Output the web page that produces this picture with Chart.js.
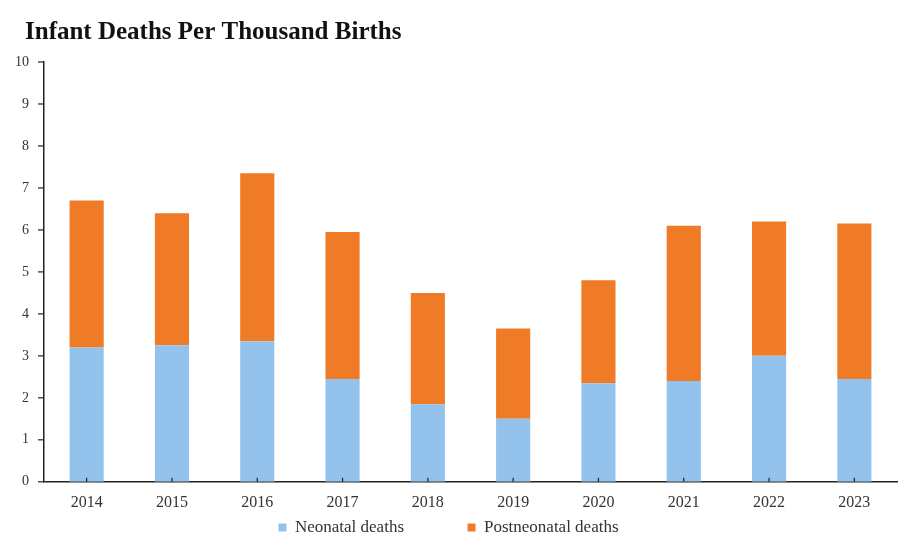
<!DOCTYPE html>
<html>
<head>
<meta charset="utf-8">
<script src="https://cdn.jsdelivr.net/npm/chart.js@4/dist/chart.umd.min.js"></script>
<style>
  html, body { margin: 0; padding: 0; background: #fff; }
  #wrap { width: 906px; height: 546px; }
</style>
</head>
<body>
<div id="wrap"><canvas id="infantChart" width="906" height="546"></canvas></div>
<script>
const years = ['2014', '2015', '2016', '2017', '2018', '2019', '2020', '2021', '2022', '2023'];
const neonatal = [3.2, 3.25, 3.35, 2.45, 1.85, 1.5, 2.35, 2.4, 3.0, 2.45];
const postneonatal = [3.5, 3.15, 4.0, 3.5, 2.65, 2.15, 2.45, 3.7, 3.2, 3.7];
const yTicks = [0, 1, 2, 3, 4, 5, 6, 7, 8, 9, 10];

const serif = "'Liberation Serif', 'DejaVu Serif', serif";

const ctx = document.getElementById('infantChart').getContext('2d');
new Chart(ctx, {
  type: 'bar',
  data: {
    labels: years,
    datasets: [{
      label: 'Neonatal deaths',
      data: neonatal,
      backgroundColor: '#93c2ec',
      barPercentage: 0.5,
      categoryPercentage: 0.8
    }, {
      label: 'Postneonatal deaths',
      data: postneonatal,
      backgroundColor: '#ef7b27',
      barPercentage: 0.5,
      categoryPercentage: 0.8
    }]
  },
  options: {
    responsive: false,
    animation: false,
    layout: { padding: { left: 0, right: 9, top: 18, bottom: 0 } },
    plugins: {
      title: {
        display: true,
        text: 'Infant Deaths Per Thousand Births',
        align: 'start',
        color: '#111',
        font: { family: serif, size: 25, weight: 'bold' },
        padding: { top: 0, bottom: 14 }
      },
      legend: {
        position: 'bottom',
        labels: {
          color: '#333',
          boxWidth: 8,
          boxHeight: 8,
          padding: 4,
          font: { family: serif, size: 17 },
          generateLabels(chart) {
            // wider gap between the two legend entries, as in the original
            const items = Chart.defaults.plugins.legend.labels.generateLabels(chart);
            items[0].text += '\u2002\u2002\u2002\u2002\u2002\u2002\u2002';
            return items;
          }
        }
      },
      tooltip: { enabled: false }
    },
    scales: {
      x: {
        stacked: true,
        grid: { display: false },
        border: { color: '#222', width: 1.5 },
        ticks: { color: '#333', padding: 3, font: { family: serif, size: 16 } }
      },
      y: {
        stacked: true,
        min: 0,
        max: 10,
        afterFit: scale => { scale.width = 44; },
        afterBuildTicks: scale => { scale.ticks = yTicks.map(v => ({ value: v })); },
        grid: { display: false },
        border: { color: '#222', width: 1.5 },
        ticks: { color: '#333', padding: 7, font: { family: serif, size: 14 } }
      }
    }
  },
  plugins: [{
    id: 'titleIndent',
    afterLayout(chart) {
      // title starts a little right of the canvas edge
      if (chart.titleBlock) chart.titleBlock.left = 25;
    }
  }, {
    id: 'axisTicks',
    afterDraw(chart) {
      // short tick marks: upward on the x axis, leftward on the y axis
      const c = chart.ctx;
      const x = chart.scales.x;
      const y = chart.scales.y;
      c.save();
      c.strokeStyle = '#222';
      c.lineWidth = 1.2;
      years.forEach((_, i) => {
        const px = x.getPixelForTick(i);
        c.beginPath();
        c.moveTo(px, y.bottom);
        c.lineTo(px, y.bottom - 4);
        c.stroke();
      });
      yTicks.forEach(v => {
        const py = y.getPixelForValue(v);
        c.beginPath();
        c.moveTo(x.left - 6, py);
        c.lineTo(x.left, py);
        c.stroke();
      });
      c.restore();
    }
  }]
});
</script>
</body>
</html>
